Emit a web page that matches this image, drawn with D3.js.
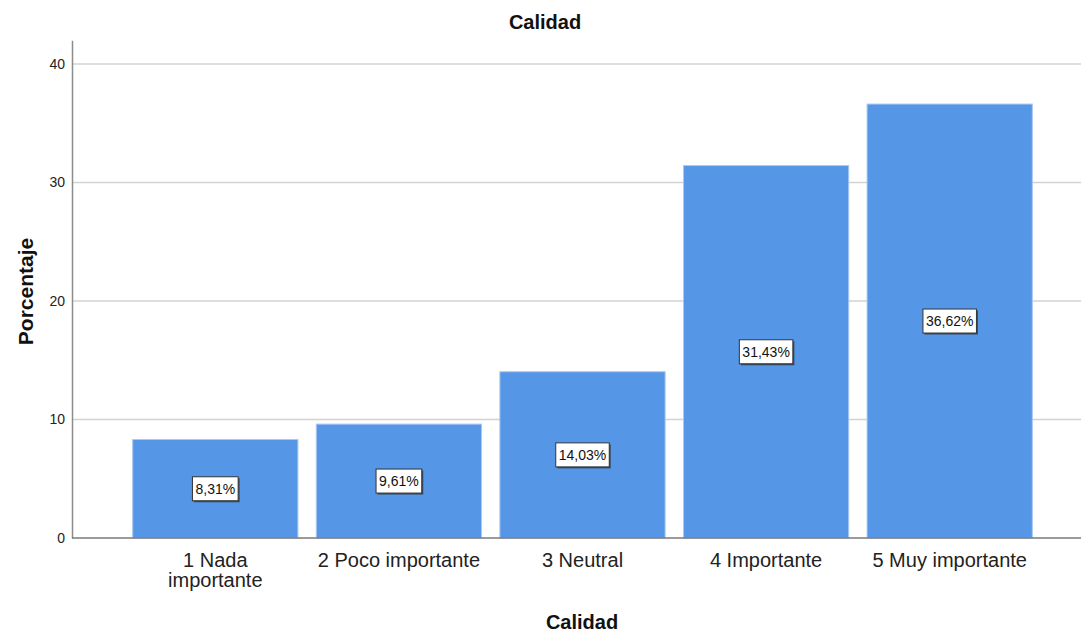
<!DOCTYPE html>
<html>
<head>
<meta charset="utf-8">
<script src="https://cdn.jsdelivr.net/npm/d3@7"></script>
<style>
  html, body { margin: 0; padding: 0; background: #fff; }
  svg { display: block; font-family: "Liberation Sans", Arial, sans-serif; }
</style>
</head>
<body>
<svg id="chart" width="1081" height="632"></svg>
<script>
// Survey responses for "Calidad" (percent of respondents)
const categories = ["1 Nada importante", "2 Poco importante", "3 Neutral", "4 Importante", "5 Muy importante"];
const categoryLines = [["1 Nada", "importante"], ["2 Poco importante"], ["3 Neutral"], ["4 Importante"], ["5 Muy importante"]];
const percentages = [8.31, 9.61, 14.03, 31.43, 36.62];
const valueLabels = ["8,31%", "9,61%", "14,03%", "31,43%", "36,62%"];
const yTicks = [0, 10, 20, 30, 40];

const svg = d3.select("#chart");
const plotLeft = 72, plotRight = 1081, plotBottom = 538;

const x = d3.scaleBand()
  .domain(categories)
  .range([123.5, 1041.5])
  .paddingInner(0.1)
  .paddingOuter(0.05);

const y = d3.scaleLinear()
  .domain([0, 42])
  .range([plotBottom, 40.3]);

// horizontal gridlines
svg.append("g")
  .selectAll("line")
  .data(yTicks.filter(d => d > 0))
  .join("line")
  .attr("x1", plotLeft).attr("x2", plotRight)
  .attr("y1", d => y(d)).attr("y2", d => y(d))
  .attr("stroke", "#d2d2d2")
  .attr("stroke-width", 1.5);

// bars
svg.append("g")
  .selectAll("rect")
  .data(percentages)
  .join("rect")
  .attr("x", (d, i) => x(categories[i]))
  .attr("y", d => y(d))
  .attr("width", x.bandwidth())
  .attr("height", d => y(0) - y(d))
  .attr("fill", "#5596e6")
  .attr("stroke", "#a9c9f1")
  .attr("stroke-width", 1);

// y axis
const yAxis = d3.axisLeft(y)
  .tickValues(yTicks)
  .tickSize(0)
  .tickPadding(7)
  .tickFormat(d3.format("d"));
const gy = svg.append("g")
  .attr("transform", `translate(${plotLeft},0)`)
  .call(yAxis);
gy.select(".domain").attr("stroke", "#8c8c8c").attr("stroke-width", 1.5);
gy.selectAll("text")
  .attr("font-size", 14)
  .attr("fill", "#222")
  .attr("font-family", "Liberation Sans, Arial, sans-serif");

// x axis baseline
svg.append("line")
  .attr("x1", plotLeft).attr("x2", plotRight)
  .attr("y1", y(0)).attr("y2", y(0))
  .attr("stroke", "#7a7a7a")
  .attr("stroke-width", 1.5);

// category labels
const xl = svg.append("g")
  .selectAll("text")
  .data(categories)
  .join("text")
  .attr("x", d => x(d) + x.bandwidth() / 2)
  .attr("y", 567)
  .attr("text-anchor", "middle")
  .attr("font-size", 20)
  .attr("fill", "#222");
xl.each(function(d, i) {
  d3.select(this).selectAll("tspan")
    .data(categoryLines[i])
    .join("tspan")
    .attr("x", x(d) + x.bandwidth() / 2)
    .attr("dy", (t, j) => j === 0 ? 0 : 20)
    .text(t => t);
});

// value boxes centred in each bar
const vg = svg.append("g")
  .selectAll("g")
  .data(percentages)
  .join("g")
  .attr("transform", (d, i) => `translate(${x(categories[i]) + x.bandwidth() / 2},${y(d / 2)})`);
vg.append("text")
  .attr("class", "val")
  .attr("text-anchor", "middle")
  .attr("dy", "0.38em")
  .attr("font-size", 14)
  .attr("fill", "#111")
  .text((d, i) => valueLabels[i]);
vg.each(function() {
  const g = d3.select(this);
  const bb = g.select("text").node().getBBox();
  const w = bb.width + 6, h = 24;
  g.insert("rect", "text")
    .attr("x", -w / 2 + 1.5).attr("y", -h / 2 + 1.5)
    .attr("width", w).attr("height", h)
    .attr("fill", "#3a4a5c");
  g.insert("rect", "text")
    .attr("x", -w / 2).attr("y", -h / 2)
    .attr("width", w).attr("height", h)
    .attr("fill", "#fff")
    .attr("stroke", "#333")
    .attr("stroke-width", 1);
});

// titles
svg.append("text")
  .attr("x", 545).attr("y", 29)
  .attr("text-anchor", "middle")
  .attr("font-size", 20).attr("font-weight", "bold")
  .attr("fill", "#111")
  .text("Calidad");

svg.append("text")
  .attr("x", 582).attr("y", 629)
  .attr("text-anchor", "middle")
  .attr("font-size", 20).attr("font-weight", "bold")
  .attr("fill", "#111")
  .text("Calidad");

svg.append("text")
  .attr("transform", "translate(33,291.5) rotate(-90)")
  .attr("text-anchor", "middle")
  .attr("font-size", 21).attr("font-weight", "bold")
  .attr("fill", "#111")
  .text("Porcentaje");
</script>
</body>
</html>
